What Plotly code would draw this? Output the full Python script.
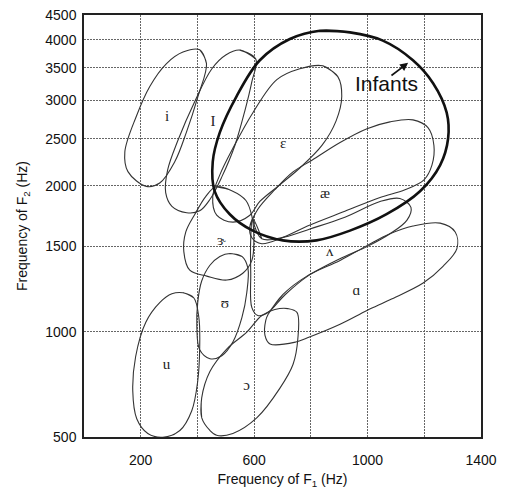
import numpy as np
import plotly.graph_objects as go

# ---------------- data (Hz) ----------------
x_ticks = [200, 600, 1000, 1400]
x_ticktext = ["200", "600", "1000", "1400"]
x_minor_grid = [400, 800, 1200]
y_ticks = [500, 1000, 1500, 2000, 2500, 3000, 3500, 4000, 4500]
y_ticktext = [str(v) for v in y_ticks]

i_F1 = [408, 432, 402, 361, 320, 267, 220, 155, 144, 185, 232, 291, 349]
i_F2 = [3815, 3573, 3059, 2577, 2241, 2026, 1994, 2139, 2348, 2786, 3205, 3573, 3773]

I_F1 = [550, 606, 592, 567, 532, 486, 444, 408, 362, 310, 288, 295, 331, 391, 451, 500]
I_F2 = [3809, 3652, 3281, 2852, 2422, 2086, 1874, 1776, 1760, 1814, 1936, 2156, 2479, 2988, 3486, 3721]

eps_F1 = [842, 895, 909, 889, 839, 761, 691, 620, 585, 525, 468, 454, 479, 525, 595, 680, 761]
eps_F2 = [3535, 3358, 3059, 2722, 2422, 2176, 2010, 1856, 1739, 1683, 1739, 1900, 2106, 2389, 2826, 3311, 3486]

ae_F1 = [585, 613, 673, 737, 804, 903, 998, 1079, 1160, 1213, 1234, 1227, 1199, 1132, 1044, 920, 797, 691, 627, 592]
ae_F2 = [1652, 1789, 1963, 2136, 2258, 2456, 2622, 2709, 2735, 2635, 2422, 2206, 2057, 1963, 1892, 1772, 1660, 1555, 1519, 1562]

uh_F1 = [595, 627, 709, 797, 920, 1044, 1114, 1153, 1139, 1079, 998, 920, 789, 709, 649, 613, 592, 588, 588]
uh_F2 = [1707, 1555, 1569, 1629, 1723, 1856, 1883, 1805, 1699, 1592, 1498, 1430, 1302, 1192, 1096, 1080, 1121, 1320, 1555]

aa_F1 = [649, 701, 786, 903, 998, 1079, 1160, 1256, 1309, 1315, 1266, 1196, 1079, 998, 903, 786, 747, 656, 638, 641]
aa_F2 = [1085, 1192, 1302, 1403, 1505, 1592, 1652, 1675, 1606, 1484, 1364, 1260, 1164, 1106, 1036, 970, 951, 942, 984, 1055]

oo_F1 = [415, 415, 444, 468, 525, 610, 691, 737, 754, 751, 719, 673, 627, 574, 504, 444]
oo_F2 = [685, 592, 531, 508, 517, 592, 732, 844, 965, 1096, 1116, 1111, 1080, 998, 919, 811]

uu_F1 = [515, 557, 578, 574, 557, 525, 486, 444, 408, 398, 401, 415, 444, 479]
uu_F2 = [1450, 1430, 1352, 1203, 1070, 951, 886, 872, 914, 1022, 1148, 1272, 1371, 1430]

u_F1 = [349, 387, 405, 408, 401, 380, 338, 278, 225, 186, 172, 182, 218, 267, 310]
u_F2 = [1203, 1175, 1070, 928, 765, 625, 531, 499, 517, 587, 718, 881, 1046, 1148, 1197]

er_F1 = [465, 521, 571, 592, 599, 592, 560, 504, 433, 373, 352, 359, 391, 429]
er_F2 = [1991, 1954, 1865, 1731, 1555, 1403, 1320, 1278, 1302, 1339, 1463, 1606, 1747, 1900]

inf_F1 = [832, 938, 1054, 1160, 1231, 1279, 1284, 1256, 1185, 1067, 938, 820, 701, 595, 514, 461, 454, 479, 538, 620, 726]
inf_F2 = [4176, 4143, 3985, 3630, 3255, 2830, 2503, 2206, 1948, 1747, 1616, 1543, 1543, 1616, 1747, 1948, 2241, 2577, 3059, 3630, 4015]

label_text = ["i", "I", "ε", "æ", "ɝ", "ʌ", "ɑ", "ʊ", "u", "ɔ"]
label_F1 = [293, 455, 702, 850, 485, 867, 961, 497, 291, 573]
label_F2 = [2764, 2700, 2441, 1918, 1538, 1461, 1212, 1139, 843, 741]

infants_label = "Infants"
infants_label_F1, infants_label_F2 = 1067, 3243
arrow_tail = (1079, 3358)
arrow_head = (1143, 3585)


# Koenig-type frequency scale: linear below 1 kHz, logarithmic above
def koenig(f):
    f = np.asarray(f, dtype=float)
    return np.where(f <= 1000, f, 1000 + 1000 * np.log(np.maximum(f, 1) / 1000))


def closed(a):
    return list(a) + list(a[:2])


fig = go.Figure()

thin = dict(color="#333333", width=1.1, shape="spline", smoothing=1.0)
for f1, f2 in [(i_F1, i_F2), (I_F1, I_F2), (eps_F1, eps_F2), (ae_F1, ae_F2),
               (uh_F1, uh_F2), (aa_F1, aa_F2), (oo_F1, oo_F2), (uu_F1, uu_F2),
               (u_F1, u_F2), (er_F1, er_F2)]:
    fig.add_trace(go.Scatter(x=closed(f1), y=koenig(closed(f2)), mode="lines",
                             line=thin, hoverinfo="skip", showlegend=False))

fig.add_trace(go.Scatter(x=closed(inf_F1), y=koenig(closed(inf_F2)), mode="lines",
                         line=dict(color="#111111", width=2.6, shape="spline", smoothing=1.0),
                         hoverinfo="skip", showlegend=False))

fig.add_trace(go.Scatter(x=label_F1, y=koenig(label_F2), mode="text", text=label_text,
                         textfont=dict(family="Liberation Serif, DejaVu Serif, serif", size=15, color="#222"),
                         hoverinfo="skip", showlegend=False))

fig.add_annotation(x=infants_label_F1, y=float(koenig(infants_label_F2)), text=infants_label,
                   showarrow=False, font=dict(family="Liberation Sans, Arial, sans-serif", size=21, color="#111"))
fig.add_annotation(x=arrow_head[0], y=float(koenig(arrow_head[1])),
                   ax=arrow_tail[0], ay=float(koenig(arrow_tail[1])), axref="x", ayref="y",
                   text="", showarrow=True, arrowhead=2, arrowsize=1, arrowwidth=1.6, arrowcolor="#111")

axis_font = dict(family="Liberation Sans, Arial, sans-serif", size=14, color="#111")
grid = dict(showgrid=True, gridcolor="#666", griddash="2px,1px", gridwidth=1)
fig.update_layout(
    width=506, height=494,
    margin=dict(l=84, r=25, t=7, b=57),
    paper_bgcolor="white", plot_bgcolor="white",
    xaxis=dict(range=[0, 1400], tickvals=x_ticks, ticktext=x_ticktext, **grid,
               minor=dict(tickvals=x_minor_grid, showgrid=True, gridcolor="#666",
                          griddash="2px,1px", gridwidth=1, ticks=""),
               showline=True, mirror=True, linecolor="#222", linewidth=1.5,
               ticks="outside", ticklen=9, tickcolor="rgba(0,0,0,0)",
               zeroline=False, tickfont=axis_font,
               title=dict(text="Frequency of F<sub>1</sub> (Hz)", font=axis_font, standoff=8)),
    yaxis=dict(range=[float(koenig(500)), float(koenig(4500))],
               tickvals=koenig(y_ticks).tolist(), ticktext=y_ticktext, **grid,
               showline=True, mirror=True, linecolor="#222", linewidth=1.5,
               ticks="outside", ticklen=3, tickcolor="rgba(0,0,0,0)",
               zeroline=False, tickfont=axis_font,
               title=dict(text="Frequency of F<sub>2</sub> (Hz)", font=axis_font, standoff=14)),
)

fig.write_html("out.html", config={"displayModeBar": False},
               post_script="document.body.style.margin='0';document.body.style.overflow='hidden';")
